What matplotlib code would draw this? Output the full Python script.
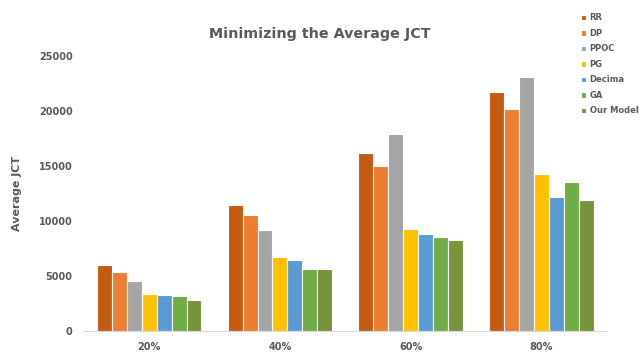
import numpy as np
import matplotlib
matplotlib.use('Agg')
import matplotlib.pyplot as plt

# Values
categories = ['20%', '40%', '60%', '80%']
series_names = ['RR', 'DP', 'PPOC', 'PG', 'Decima', 'GA', 'Our Model']
rr = [6000, 11400, 16200, 21700]
dp = [5400, 10550, 15000, 20200]
ppoc = [4500, 9200, 17850, 23050]
pg = [3400, 6750, 9250, 14250]
decima = [3300, 6450, 8850, 12150]
ga = [3200, 5650, 8500, 13500]
our_model = [2800, 5600, 8250, 11850]
colors = ['#C55A11', '#ED7D31', '#A5A5A5', '#FFC000', '#5B9BD5', '#70AD47', '#77933C']

all_series = [rr, dp, ppoc, pg, decima, ga, our_model]
grey = '#595959'

fig = plt.figure(figsize=(6.4, 3.6), dpi=100)
ax = fig.add_axes([0.131, 0.0806, 0.817, 0.7647])

x = np.arange(len(categories))
n = len(all_series)
width = 0.8 / n
for i, (name, vals, col) in enumerate(zip(series_names, all_series, colors)):
    offset = (i - (n - 1) / 2) * width
    ax.bar(x + offset, vals, width, color=col, edgecolor='white', linewidth=0.8, label=name)

ax.set_xlim(-0.5, len(categories) - 0.5)
ax.set_ylim(0, 25000)
ax.set_yticks([0, 5000, 10000, 15000, 20000, 25000])
ax.set_xticks(x)
ax.set_xticklabels(categories)

for s in ['top', 'right', 'left']:
    ax.spines[s].set_visible(False)
ax.spines['bottom'].set_color('#D9D9D9')
ax.tick_params(axis='both', length=0, colors=grey, labelsize=7)
ax.tick_params(axis='y', pad=8)
ax.tick_params(axis='x', pad=8)
for lbl in ax.get_xticklabels() + ax.get_yticklabels():
    lbl.set_fontweight('bold')

ax.set_ylabel('Average JCT', fontsize=8, fontweight='bold', color=grey, labelpad=12)
fig.text(0.5, 0.905, 'Minimizing the Average JCT', ha='center', va='center',
         fontsize=10.3, fontweight='bold', color=grey)

leg = fig.legend(loc='upper left', bbox_to_anchor=(0.903, 0.972), frameon=False,
                 fontsize=6.0, handlelength=0.6, handleheight=0.6, handletextpad=0.4,
                 labelspacing=0.78, borderaxespad=0)
for t in leg.get_texts():
    t.set_color(grey)
    t.set_fontweight('bold')

fig.savefig('out.png', dpi=100)
